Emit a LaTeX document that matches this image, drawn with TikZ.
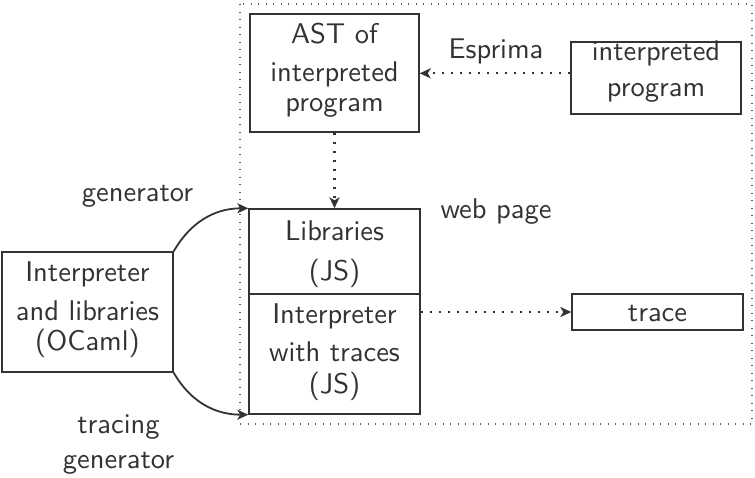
\documentclass[tikz,border=0pt]{standalone}
\usepackage{fontspec}
\setsansfont{lmsans10-regular.otf}
\usetikzlibrary{arrows.meta}
\definecolor{ink}{HTML}{333333}
\tikzset{
  box/.style={draw=ink, line width=1.4pt, text=ink, align=center, inner sep=0pt,
    text depth=0pt},
  lbl/.style={text=ink, align=center, inner sep=0pt},
  flow/.style={draw=ink, line width=2.2pt, dash pattern=on 2pt off 7pt,
    -{Stealth[length=11pt, width=10pt, inset=3pt]}},
  gen/.style={draw=ink, line width=1.8pt,
    -{Stealth[length=11pt, width=10pt, inset=3pt]}},
  webpage/.style={draw=ink!80, line width=1.1pt, dash pattern=on 1pt off 6.5pt}
}
\begin{document}
\begin{tikzpicture}[x=1pt, y=-1pt, font=\sffamily\fontsize{28.5}{30}\selectfont]
\useasboundingbox (0,0) rectangle (755,477);

% the web page frame
\draw[webpage] (240,4) rectangle (752,424);

% boxes (text height = twice the drop of the last baseline below the box centre)
\node[box, minimum width=169pt, minimum height=118pt, text height=77.4pt] (ast)
  at (334.5,73) {AST of\\[8.4pt]interpreted\\program};
\node[box, minimum width=170pt, minimum height=72pt, text height=37.4pt] (src)
  at (656,78) {interpreted\\[6.7pt]program};
\node[box, minimum width=171pt, minimum height=85pt, text height=57pt] (libs)
  at (334.5,251.5) {Libraries\\[10pt](JS)};
\node[box, minimum width=171pt, minimum height=120pt, text height=78.6pt] (interp)
  at (334.5,354) {Interpreter\\[8.3pt]with traces\\[1.7pt](JS)};
\node[box, minimum width=171pt, minimum height=120pt, text height=76pt] (ocaml)
  at (87.5,312) {Interpreter\\[8.3pt]and libraries\\(OCaml)};
\node[box, minimum width=171pt, minimum height=36pt, text height=19.4pt] (trace)
  at (657.5,312) {trace};

% labels
\node[lbl, anchor=base] (esprima) at (496,58.3) {Esprima};
\node[lbl, anchor=base] (web) at (496,218.3) {web page};
\node[lbl, anchor=base] (g1) at (137.5,201.7) {generator};
\node[lbl, text height=0pt, text depth=0pt] (g2) at (118.5,468.3) {tracing\\[5pt]generator};

% connectors
\draw[flow] (src.west |- 0,73.3) -- (ast.east |- 0,73.3);
\draw[flow] (ast.south) -- (libs.north);
\draw[flow] (interp.east |- trace.west) -- (trace.west);
\draw[gen] (ocaml.north east) to[out=60, in=180] (libs.north west);
\draw[gen] (ocaml.south east) to[out=-60, in=180] (interp.south west);
\end{tikzpicture}
\end{document}
